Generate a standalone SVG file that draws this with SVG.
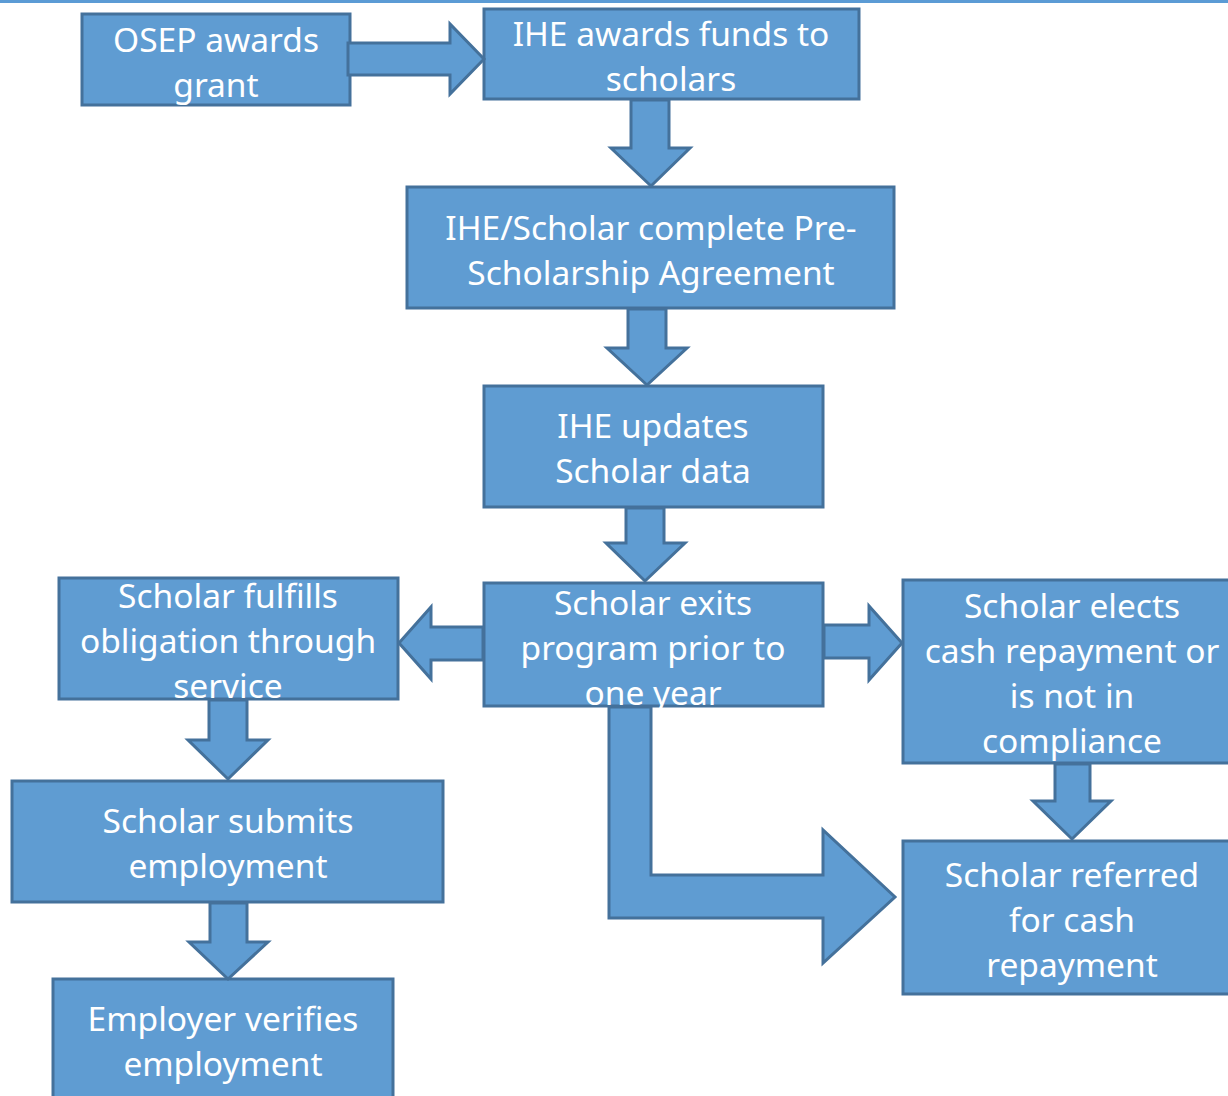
<svg xmlns="http://www.w3.org/2000/svg" width="1228" height="1096" viewBox="0 0 1228 1096">
<style>
.box{fill:#5f9cd2;stroke:#44719b;stroke-width:3}
.arr{fill:#5f9cd2;stroke:#44719b;stroke-width:3;stroke-linejoin:miter}
text{font-family:"Noto Sans","Open Sans","DejaVu Sans",sans-serif;font-size:33.5px;fill:#ffffff;text-anchor:middle}
</style>
<rect x="0" y="0" width="1228" height="3" fill="#5b9bd5"/>
<g id="n1"><rect class="box" x="82" y="14" width="268" height="91"/><text x="216" y="52">OSEP awards</text><text x="216" y="97">grant</text></g>
<g id="n2"><rect class="box" x="484" y="9" width="375" height="90"/><text x="671" y="46">IHE awards funds to</text><text x="671" y="91">scholars</text></g>
<g id="n3"><rect class="box" x="407" y="187" width="487" height="121"/><text x="651" y="240">IHE/Scholar complete Pre-</text><text x="651" y="285">Scholarship Agreement</text></g>
<g id="n4"><rect class="box" x="484" y="386" width="339" height="121"/><text x="653" y="438">IHE updates</text><text x="653" y="483">Scholar data</text></g>
<g id="n5"><rect class="box" x="484" y="583" width="339" height="123"/><text x="653" y="615">Scholar exits</text><text x="653" y="660">program prior to</text><text x="653" y="705">one year</text></g>
<g id="n6"><rect class="box" x="59" y="578" width="339" height="121"/><text x="228" y="608">Scholar fulfills</text><text x="228" y="653">obligation through</text><text x="228" y="698">service</text></g>
<g id="n7"><rect class="box" x="903" y="580" width="330" height="183"/><text x="1072" y="618">Scholar elects</text><text x="1072" y="663">cash repayment or</text><text x="1072" y="708">is not in</text><text x="1072" y="753">compliance</text></g>
<g id="n8"><rect class="box" x="903" y="841" width="330" height="153"/><text x="1072" y="887">Scholar referred</text><text x="1072" y="932">for cash</text><text x="1072" y="977">repayment</text></g>
<g id="n9"><rect class="box" x="12" y="781" width="431" height="121"/><text x="228" y="833">Scholar submits</text><text x="228" y="878">employment</text></g>
<g id="n10"><rect class="box" x="53" y="979" width="340" height="130"/><text x="223" y="1031">Employer verifies</text><text x="223" y="1076">employment</text></g>
<g id="connectors">
<polygon class="arr" points="348,43 450,43 450,24 484,59 450,94 450,75 348,75"/>
<polygon class="arr" points="631,100 669,100 669,148 690,148 651,186 611,148 631,148"/>
<polygon class="arr" points="628,309 666,309 666,348 687,348 647,385 607,348 628,348"/>
<polygon class="arr" points="626,508 664,508 664,543 685,543 645,581 606,543 626,543"/>
<polygon class="arr" points="483,627 431,627 431,607 399,643 431,679 431,660 483,660"/>
<polygon class="arr" points="824,625 869,625 869,606 902,643 869,680 869,658 824,658"/>
<polygon class="arr" points="1055,764 1090,764 1090,801 1111,801 1072,839 1033,801 1055,801"/>
<polygon class="arr" points="209,700 247,700 247,740 268,740 228,779 188,740 209,740"/>
<polygon class="arr" points="210,903 247,903 247,942 268,942 228,979 189,942 210,942"/>
<polygon class="arr" points="609,707 651,707 651,875 823,875 823,830 895,897 823,963 823,918 609,918"/>
</g>
</svg>
